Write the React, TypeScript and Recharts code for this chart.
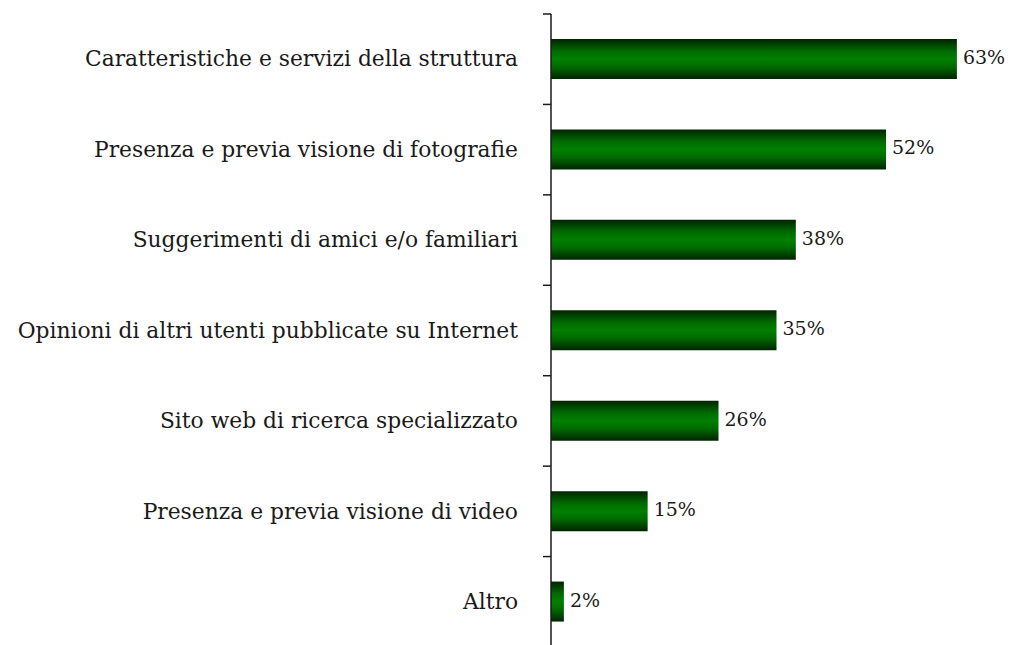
import { BarChart, Bar, XAxis, YAxis, LabelList } from 'recharts'

// Fattori che influenzano la scelta della struttura (%)
const categories = [
  'Caratteristiche e servizi della struttura',
  'Presenza e previa visione di fotografie',
  'Suggerimenti di amici e/o familiari',
  'Opinioni di altri utenti pubblicate su Internet',
  'Sito web di ricerca specializzato',
  'Presenza e previa visione di video',
  'Altro',
]
const shares = [63, 52, 38, 35, 26, 15, 2]

const data = categories.map((name, i) => ({ name, value: shares[i] }))

const WIDTH = 1012
const HEIGHT = 645
const MARGIN = { top: 14, right: 10, bottom: -2, left: 0 }
const AXIS_WIDTH = 551
const BAND = (HEIGHT - MARGIN.top - MARGIN.bottom) / categories.length
const FONT = '"DejaVu Serif", serif'
const INK = '#1a1a1a'

// tick a sinistra sul bordo della banda + etichetta categoria
function CategoryTick(props: any) {
  const { y, payload, index } = props
  const top = y - BAND / 2
  const bottom = y + BAND / 2
  return (
    <g>
      <line x1={AXIS_WIDTH - 8} x2={AXIS_WIDTH} y1={top} y2={top} stroke={INK} strokeWidth={1.5} />
      {index === categories.length - 1 && (
        <line x1={AXIS_WIDTH - 8} x2={AXIS_WIDTH} y1={bottom} y2={bottom} stroke={INK} strokeWidth={1.5} />
      )}
      <text
        x={AXIS_WIDTH - 33}
        y={y}
        dy="0.33em"
        textAnchor="end"
        fill={INK}
        fontFamily={FONT}
        fontSize={21.8}
      >
        {payload.value}
      </text>
    </g>
  )
}

function ValueLabel(props: any) {
  const { x, y, width, height, value } = props
  return (
    <text
      x={x + width + 6}
      y={y + height / 2 - 2}
      dominantBaseline="central"
      fill={INK}
      fontFamily={FONT}
      fontSize={19}
    >
      {`${value}%`}
    </text>
  )
}

export default function App() {
  return (
    <div style={{ position: 'absolute', left: 0, top: 0, background: '#fff' }}>
      <BarChart width={WIDTH} height={HEIGHT} data={data} layout="vertical" margin={MARGIN}>
        <defs>
          <linearGradient id="barGreen" x1="0" y1="0" x2="0" y2="1">
            <stop offset="0%" stopColor="#002400" />
            <stop offset="30%" stopColor="#006a00" />
            <stop offset="50%" stopColor="#008000" />
            <stop offset="70%" stopColor="#006a00" />
            <stop offset="100%" stopColor="#002400" />
          </linearGradient>
        </defs>
        <XAxis type="number" domain={[0, 70]} hide />
        <YAxis
          type="category"
          dataKey="name"
          width={AXIS_WIDTH}
          interval={0}
          tickLine={false}
          axisLine={{ stroke: INK, strokeWidth: 1.5 }}
          tick={<CategoryTick />}
        />
        <Bar dataKey="value" fill="url(#barGreen)" barSize={40} isAnimationActive={false}>
          <LabelList dataKey="value" content={<ValueLabel />} />
        </Bar>
      </BarChart>
    </div>
  )
}
